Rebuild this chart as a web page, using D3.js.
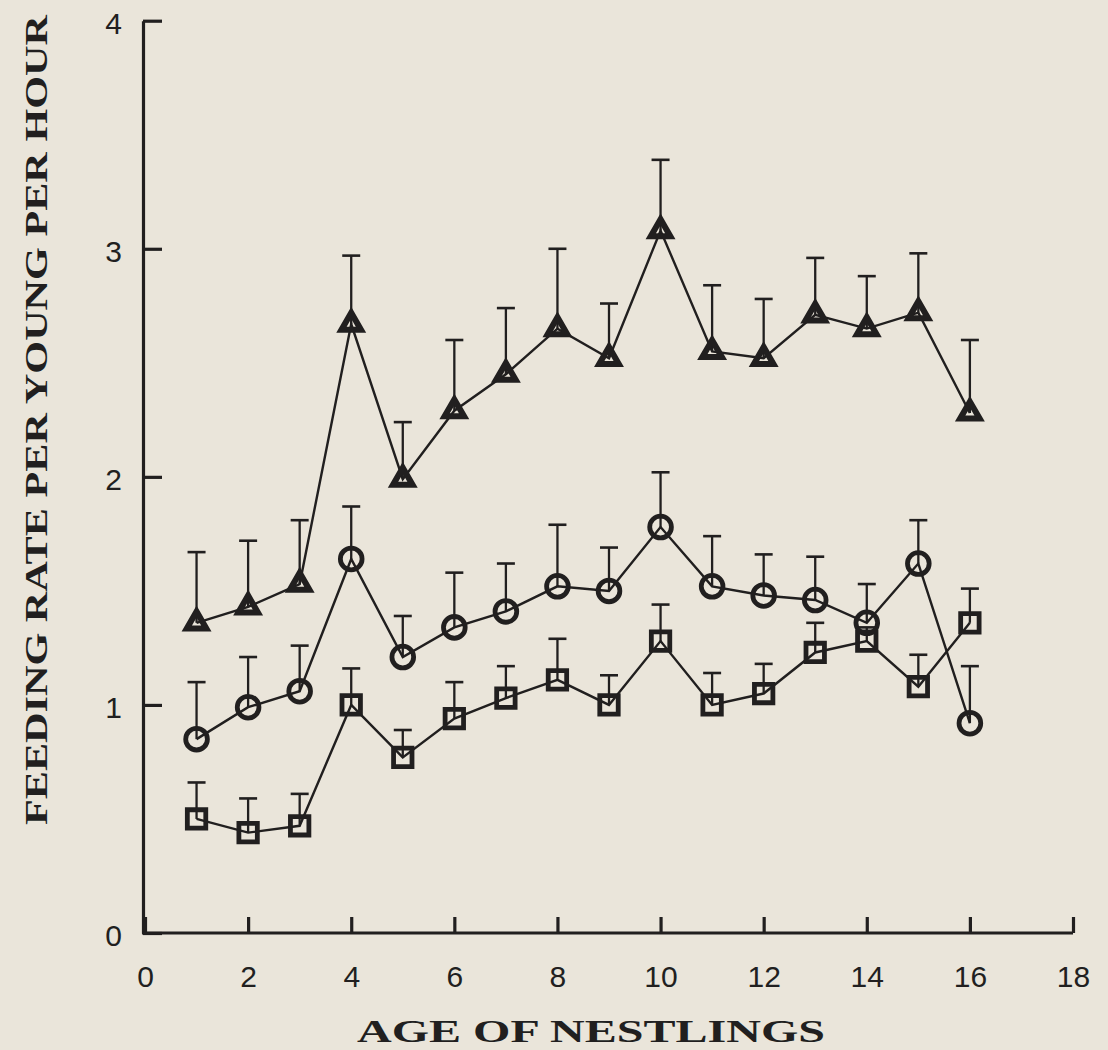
<!DOCTYPE html>
<html>
<head>
<meta charset="utf-8">
<script src="https://cdn.jsdelivr.net/npm/d3@7"></script>
<style>
  html, body { margin: 0; padding: 0; background: #eae5da; }
  svg { display: block; }
</style>
</head>
<body>
<script>
// ---- data ----
const days = [1, 2, 3, 4, 5, 6, 7, 8, 9, 10, 11, 12, 13, 14, 15, 16];
const triMean = [1.36, 1.43, 1.53, 2.67, 1.99, 2.29, 2.45, 2.65, 2.52, 3.08, 2.55, 2.52, 2.71, 2.65, 2.72, 2.28];
const triUpper = [1.67, 1.72, 1.81, 2.97, 2.24, 2.60, 2.74, 3.00, 2.76, 3.39, 2.84, 2.78, 2.96, 2.88, 2.98, 2.60];
const circMean = [0.85, 0.99, 1.06, 1.64, 1.21, 1.34, 1.41, 1.52, 1.50, 1.78, 1.52, 1.48, 1.46, 1.36, 1.62, 0.92];
const circUpper = [1.10, 1.21, 1.26, 1.87, 1.39, 1.58, 1.62, 1.79, 1.69, 2.02, 1.74, 1.66, 1.65, 1.53, 1.81, 1.17];
const sqMean = [0.50, 0.44, 0.47, 1.00, 0.77, 0.94, 1.03, 1.11, 1.00, 1.28, 1.00, 1.05, 1.23, 1.28, 1.08, 1.36];
const sqUpper = [0.66, 0.59, 0.61, 1.16, 0.89, 1.10, 1.17, 1.29, 1.13, 1.44, 1.14, 1.18, 1.36, 1.34, 1.22, 1.51];
const xTicks = [0, 2, 4, 6, 8, 10, 12, 14, 16, 18];
const yTicks = [0, 1, 2, 3, 4];
const xTitle = "AGE OF NESTLINGS";
const yTitle = "FEEDING RATE PER YOUNG PER HOUR";

const W = 1108, H = 1050;
const ink = "#211f1f";

const svg = d3.select("body").append("svg").attr("width", W).attr("height", H);
svg.append("rect").attr("width", W).attr("height", H).attr("fill", "#eae5da");

const x = d3.scaleLinear().domain([0, 18]).range([145, 1073]);
const y = d3.scaleLinear().domain([0, 4]).range([933, 20.7]);

// ---- axes ----
const yAxis = d3.axisLeft(y).tickValues(yTicks).tickFormat(d3.format("d"))
  .tickSizeInner(-19).tickSizeOuter(0).tickPadding(21);
const gy = svg.append("g").attr("transform", "translate(143,0)").call(yAxis);

const xAxis = d3.axisBottom(x).tickValues(xTicks).tickFormat(d3.format("d"))
  .tickSizeInner(-16).tickSizeOuter(0).tickPadding(33);
const gx = svg.append("g").attr("transform", "translate(0,933)").call(xAxis);

[gx, gy].forEach(g => {
  g.attr("font-size", null).attr("font-family", null);
  g.select(".domain").attr("stroke", ink).attr("stroke-width", 3.2);
  g.selectAll(".tick line").attr("stroke", ink).attr("stroke-width", 3.2);
  g.selectAll(".tick text")
    .attr("fill", ink)
    .style("font-family", "'Liberation Sans', Arial, Helvetica, sans-serif")
    .style("font-size", "30px");
});
gy.selectAll(".tick text").attr("dy", "0.42em");
gx.select(".domain").attr("d", `M${x(0) - 3},0H${x(18)}`);

// ---- titles ----
svg.append("text")
  .attr("x", 591).attr("y", 1042)
  .attr("text-anchor", "middle")
  .attr("textLength", 468).attr("lengthAdjust", "spacingAndGlyphs")
  .style("font-family", "'Liberation Serif', 'Times New Roman', Times, serif")
  .style("font-weight", "bold").style("font-size", "32px")
  .attr("fill", ink)
  .text(xTitle);

svg.append("text")
  .attr("transform", "translate(47,420) rotate(-90)")
  .attr("text-anchor", "middle")
  .attr("textLength", 810).attr("lengthAdjust", "spacingAndGlyphs")
  .style("font-family", "'Liberation Serif', 'Times New Roman', Times, serif")
  .style("font-weight", "bold").style("font-size", "31px")
  .attr("fill", ink)
  .text(yTitle);

// ---- series ----
const series = [
  { mean: triMean, upper: triUpper, type: d3.symbolTriangle, size: 165, sw: 6 },
  { mean: circMean, upper: circUpper, type: d3.symbolCircle, size: 370, sw: 4.8 },
  { mean: sqMean, upper: sqUpper, type: d3.symbolSquare, size: 340, sw: 4.8 }
];

const line = d3.line().x(d => x(d[0])).y(d => y(d[1]));
const capHalf = 9;

series.forEach(s => {
  const pts = days.map((d, i) => [d, s.mean[i], s.upper[i]]);
  const g = svg.append("g");
  g.append("path").datum(pts)
    .attr("d", line).attr("fill", "none")
    .attr("stroke", ink).attr("stroke-width", 2.4).attr("stroke-linejoin", "miter");

  g.selectAll("line.err").data(pts).join("line")
    .attr("class", "err")
    .attr("x1", d => x(d[0])).attr("x2", d => x(d[0]))
    .attr("y1", d => y(d[1])).attr("y2", d => y(d[2]))
    .attr("stroke", ink).attr("stroke-width", 2.3);
  g.selectAll("line.cap").data(pts).join("line")
    .attr("class", "cap")
    .attr("x1", d => x(d[0]) - capHalf).attr("x2", d => x(d[0]) + capHalf)
    .attr("y1", d => y(d[2])).attr("y2", d => y(d[2]))
    .attr("stroke", ink).attr("stroke-width", 2.6);

  const sym = d3.symbol().type(s.type).size(s.size);
  g.selectAll("path.mk").data(pts).join("path")
    .attr("class", "mk")
    .attr("d", sym)
    .attr("transform", d => `translate(${x(d[0])},${y(d[1])})`)
    .attr("fill", "none")
    .attr("stroke", ink).attr("stroke-width", s.sw).attr("stroke-linejoin", "miter");
});
</script>
</body>
</html>
